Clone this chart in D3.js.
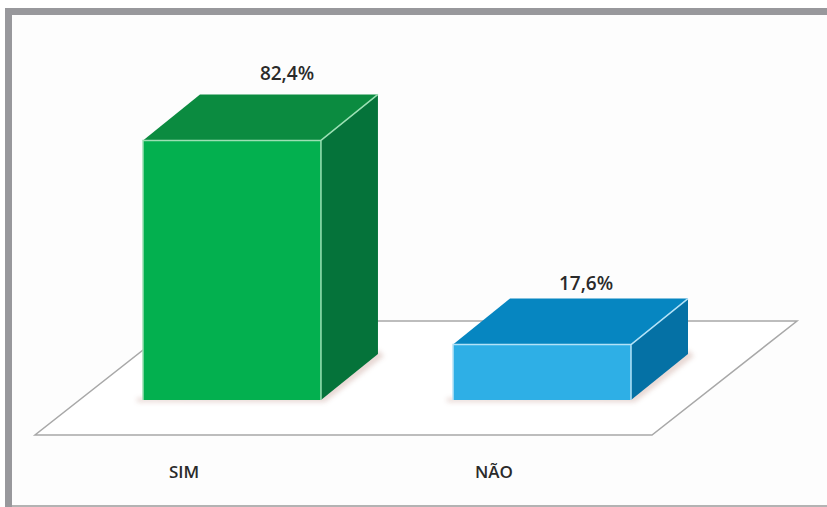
<!DOCTYPE html>
<html>
<head>
<meta charset="utf-8">
<script src="https://cdn.jsdelivr.net/npm/d3@7"></script>
<style>
  html, body { margin: 0; padding: 0; background: #fff; }
  svg { display: block; }
</style>
</head>
<body>
<svg id="chart" width="827" height="507"></svg>
<script>
const categories = ['SIM', 'NÃO'];
const values = [82.4, 17.6];
const valueLabels = ['82,4%', '17,6%'];
const frontColors = ['#03b04f', '#2eafe6'];
const topColors = ['#0b8b40', '#0686c1'];
const sideColors = ['#05733a', '#0571a5'];
const edgeColors = ['#9be0b4', '#b3e2f7'];

const svg = d3.select('#chart');
const W = 827, H = 507;

// frame
svg.append('rect').attr('x', 12).attr('y', 15).attr('width', W - 12).attr('height', H - 16).attr('fill', '#fdfdfd');
svg.append('rect').attr('x', 5).attr('y', 8).attr('width', W - 5).attr('height', 7).attr('fill', '#98989c');
svg.append('rect').attr('x', 5).attr('y', 8).attr('width', 7).attr('height', H - 8).attr('fill', '#98989c');
svg.append('line').attr('x1', 12).attr('x2', W).attr('y1', 506).attr('y2', 506).attr('stroke', '#9a9a9a').attr('stroke-width', 1.5);

const x = d3.scaleBand().domain(categories).range([143, 631]).paddingInner(0.426).paddingOuter(0);
const y = d3.scaleLinear().domain([0, 100]).range([400, 85]);
const depth = [57, -46];

// floor
const floor = { x0: 35, x1: 652, y: 435, dx: 145, dy: -114 };
svg.append('polygon')
  .attr('points', [[floor.x0, floor.y], [floor.x1, floor.y], [floor.x1 + floor.dx, floor.y + floor.dy], [floor.x0 + floor.dx, floor.y + floor.dy]].join(' '))
  .attr('fill', '#ffffff')
  .attr('stroke', '#a8a8a8')
  .attr('stroke-width', 1.5);

const defs = svg.append('defs');
defs.append('filter').attr('id', 'blur').append('feGaussianBlur').attr('stdDeviation', 2.5);

const data = categories.map((c, i) => ({ c, v: values[i], i }));
const bars = svg.selectAll('g.bar').data(data).join('g').attr('class', 'bar');

// shadow on floor
bars.append('polygon')
  .attr('points', d => {
    const x0 = x(d.c), x1 = x0 + x.bandwidth(), b = y(0);
    return [[x0 - 6, b + 2], [x1 + 4, b + 2], [x1 + depth[0] + 6, b + depth[1] + 2], [x1 + depth[0], b + depth[1] - 4], [x1, b - 4], [x0 - 6, b - 2]].join(' ');
  })
  .attr('fill', '#c9a59c')
  .attr('opacity', 0.45)
  .attr('filter', 'url(#blur)');

// front face
bars.append('rect')
  .attr('x', d => x(d.c))
  .attr('y', d => y(d.v))
  .attr('width', x.bandwidth())
  .attr('height', d => y(0) - y(d.v))
  .attr('fill', d => frontColors[d.i]);

// top face
bars.append('polygon')
  .attr('points', d => {
    const x0 = x(d.c), x1 = x0 + x.bandwidth(), t = y(d.v);
    return [[x0, t], [x1, t], [x1 + depth[0], t + depth[1]], [x0 + depth[0], t + depth[1]]].join(' ');
  })
  .attr('fill', d => topColors[d.i]);

// side face
bars.append('polygon')
  .attr('points', d => {
    const x1 = x(d.c) + x.bandwidth(), t = y(d.v), b = y(0);
    return [[x1, t], [x1 + depth[0], t + depth[1]], [x1 + depth[0], b + depth[1]], [x1, b]].join(' ');
  })
  .attr('fill', d => sideColors[d.i]);

// light edges
bars.append('path')
  .attr('d', d => {
    const x0 = x(d.c), x1 = x0 + x.bandwidth(), t = y(d.v), b = y(0);
    return `M${x0},${b}V${t}H${x1}V${b}M${x1},${t}L${x1 + depth[0]},${t + depth[1]}`;
  })
  .attr('fill', 'none')
  .attr('stroke', d => edgeColors[d.i])
  .attr('stroke-width', 1.5);

// value labels
bars.append('text')
  .attr('x', d => x(d.c) + x.bandwidth() / 2 + (d.i === 0 ? 55 : 44))
  .attr('y', d => y(d.v) - 60 + (d.i === 0 ? 0 : 5))
  .attr('text-anchor', 'middle')
  .attr('font-family', 'Open Sans, sans-serif')
  .attr('font-size', 19)
  .attr('font-weight', 600)
  .attr('fill', '#2a2a2a')
  .text(d => valueLabels[d.i]);

// category labels
bars.append('text')
  .attr('x', d => x(d.c) + x.bandwidth() / 2 - 48)
  .attr('y', 478)
  .attr('text-anchor', 'middle')
  .attr('font-family', 'Open Sans, sans-serif')
  .attr('font-size', 17)
  .attr('font-weight', 600)
  .attr('fill', '#2a2a2a')
  .text(d => d.c);
</script>
</body>
</html>
